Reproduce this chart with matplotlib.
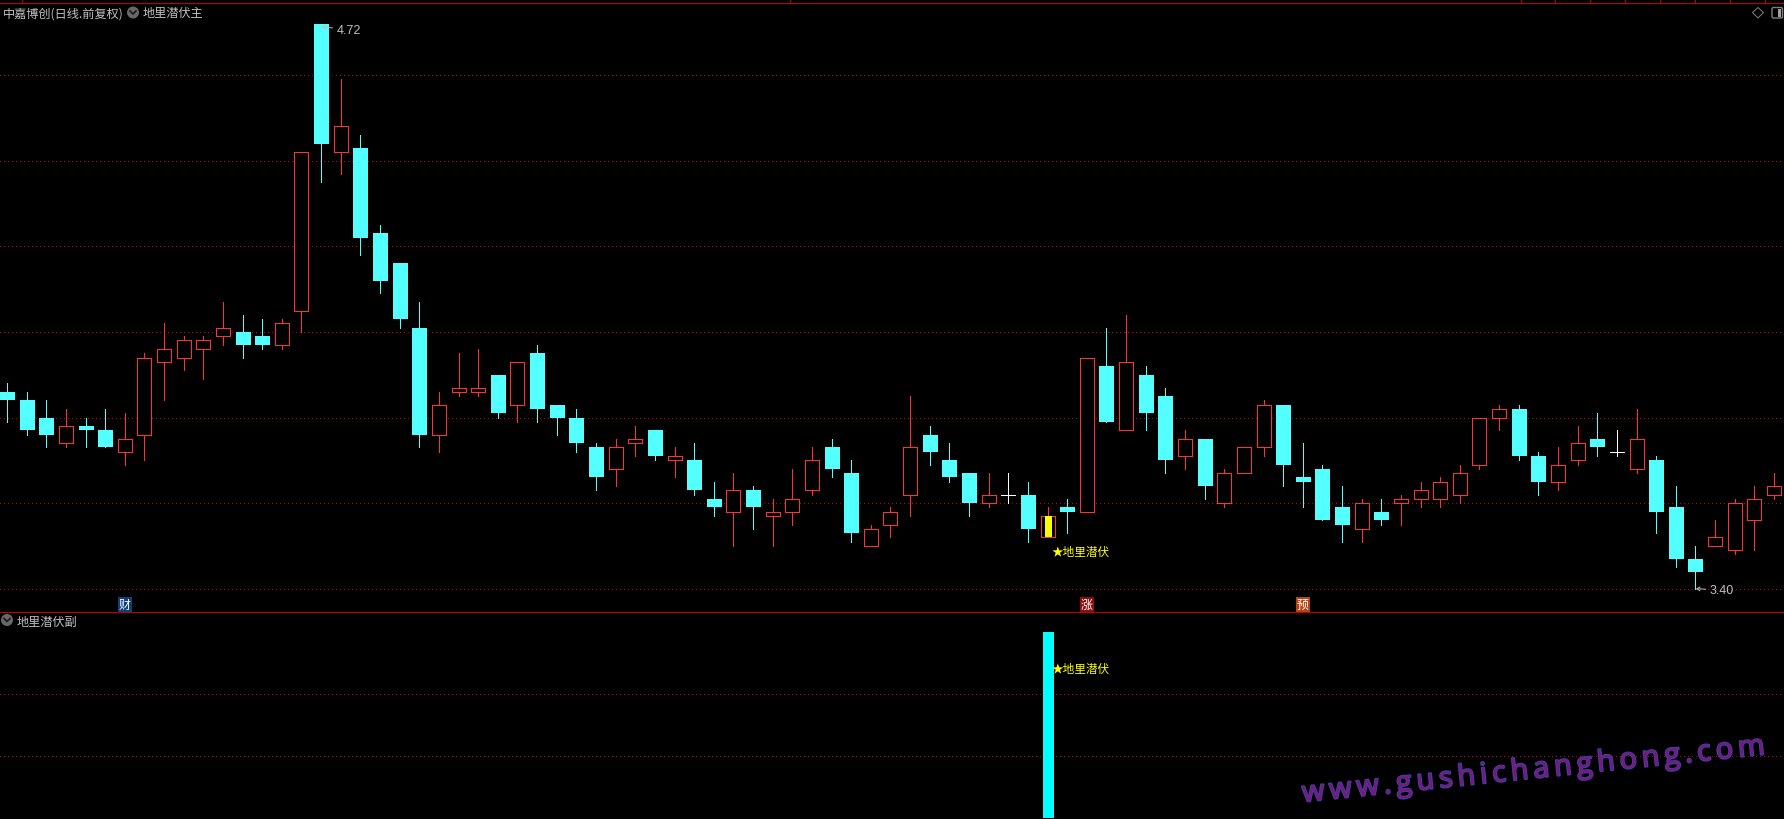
import matplotlib
matplotlib.use('Agg')
import matplotlib.pyplot as plt
import matplotlib.patheffects as pe
from matplotlib.patches import Circle, FancyBboxPatch, Polygon, Rectangle

plt.rcParams['font.family'] = ['Noto Sans CJK SC', 'DejaVu Sans']

W, H = 1784, 820

opens = [3.86, 3.84, 3.80, 3.74, 3.78, 3.77, 3.72, 3.76, 3.93, 3.94, 3.96, 3.99, 4.00, 3.99, 3.97, 4.05,
         4.72, 4.42, 4.43, 4.23, 4.16, 4.01, 3.76, 3.86, 3.86, 3.90, 3.83, 3.95, 3.83, 3.80, 3.73, 3.68,
         3.74, 3.77, 3.70, 3.70, 3.61, 3.58, 3.63, 3.57, 3.58, 3.63, 3.73, 3.67, 3.50, 3.55, 3.62, 3.76,
         3.70, 3.67, 3.60, 3.62, 3.62, 3.52, 3.59, 3.58, 3.92, 3.77, 3.90, 3.85, 3.71, 3.75, 3.60, 3.67,
         3.73, 3.83, 3.66, 3.68, 3.59, 3.54, 3.58, 3.60, 3.61, 3.61, 3.62, 3.69, 3.80, 3.82, 3.71, 3.65,
         3.70, 3.75, 3.72, 3.68, 3.70, 3.59, 3.47, 3.50, 3.49, 3.56, 3.62]
highs = [3.88, 3.86, 3.84, 3.82, 3.80, 3.82, 3.81, 3.95, 4.02, 3.99, 3.99, 4.07, 4.04, 4.03, 4.03, 4.42,
         4.72, 4.59, 4.46, 4.25, 4.16, 4.07, 3.86, 3.95, 3.96, 3.90, 3.93, 3.97, 3.83, 3.82, 3.74, 3.75,
         3.78, 3.77, 3.73, 3.74, 3.65, 3.67, 3.64, 3.61, 3.68, 3.73, 3.75, 3.70, 3.55, 3.59, 3.85, 3.78,
         3.74, 3.67, 3.67, 3.67, 3.65, 3.59, 3.61, 3.94, 4.01, 4.04, 3.92, 3.87, 3.77, 3.75, 3.68, 3.73,
         3.84, 3.83, 3.74, 3.69, 3.64, 3.61, 3.61, 3.62, 3.65, 3.66, 3.69, 3.80, 3.83, 3.83, 3.72, 3.73,
         3.78, 3.81, 3.77, 3.82, 3.71, 3.64, 3.50, 3.56, 3.61, 3.64, 3.67]
lows = [3.79, 3.76, 3.73, 3.73, 3.73, 3.73, 3.69, 3.70, 3.84, 3.91, 3.89, 3.97, 3.94, 3.96, 3.96, 4.00,
        4.35, 4.37, 4.18, 4.09, 4.01, 3.73, 3.72, 3.85, 3.85, 3.80, 3.79, 3.79, 3.76, 3.72, 3.63, 3.64,
        3.71, 3.70, 3.66, 3.62, 3.57, 3.50, 3.54, 3.50, 3.55, 3.62, 3.66, 3.51, 3.50, 3.52, 3.57, 3.69,
        3.65, 3.57, 3.59, 3.60, 3.51, 3.52, 3.53, 3.58, 3.79, 3.77, 3.77, 3.67, 3.68, 3.61, 3.59, 3.67,
        3.71, 3.64, 3.59, 3.56, 3.51, 3.51, 3.55, 3.55, 3.59, 3.59, 3.60, 3.68, 3.77, 3.70, 3.62, 3.63,
        3.69, 3.71, 3.71, 3.67, 3.53, 3.45, 3.40, 3.50, 3.48, 3.49, 3.61]
closes = [3.84, 3.77, 3.76, 3.78, 3.77, 3.73, 3.75, 3.94, 3.96, 3.98, 3.98, 4.01, 3.97, 3.97, 4.02, 4.42,
          4.44, 4.48, 4.22, 4.12, 4.03, 3.76, 3.83, 3.87, 3.87, 3.81, 3.93, 3.82, 3.80, 3.74, 3.66, 3.73,
          3.75, 3.71, 3.71, 3.63, 3.59, 3.63, 3.59, 3.58, 3.61, 3.70, 3.68, 3.53, 3.54, 3.58, 3.73, 3.72,
          3.66, 3.60, 3.62, 3.62, 3.54, 3.57, 3.58, 3.94, 3.79, 3.93, 3.81, 3.70, 3.75, 3.64, 3.67, 3.73,
          3.83, 3.69, 3.65, 3.56, 3.55, 3.60, 3.56, 3.61, 3.63, 3.65, 3.67, 3.80, 3.82, 3.71, 3.65, 3.69,
          3.74, 3.73, 3.72, 3.75, 3.58, 3.47, 3.44, 3.52, 3.60, 3.61, 3.64]

price_grid = [3.40, 3.60, 3.80, 4.00, 4.20, 4.40, 4.60]
sub_grid = [1, 2]
signal_day = 53
signal_value = 3
high_day, high_label = 16, '4.72'
low_day, low_label = 86, '3.40'
badge_days = [6, 55, 66]
badge_text = ['财', '涨', '预']
badge_color = ['#123f78', '#8a0f0f', '#b8430f']
top_ticks = [22, 790, 1521, 1555, 1590, 1625, 1660, 1695, 1730, 1765]

RED = '#ff3232'
CYAN = '#54ffff'
GRID = '#c00000'
LINE = '#c00000'
GRAY = '#c0c0c0'


def px_w(p):
    # width in pixels to x data units
    return p / 19.633


def draw_candles(ax):
    for i in range(len(opens)):
        o, h, l, c = opens[i], highs[i], lows[i], closes[i]
        if o == c:
            color = 'white'
        elif c > o:
            color = RED
        else:
            color = CYAN
        wick_x = i - px_w(0.5)
        ax.plot([wick_x, wick_x], [l, h], color=color, lw=0.72, antialiased=False, solid_capstyle='butt', zorder=2)
        if o == c:
            ax.plot([i - px_w(7.5), i + px_w(6.5)], [c, c], color=color, lw=0.72, antialiased=False, zorder=3)
        elif c > o:
            ax.add_patch(Rectangle((i - px_w(7.5), o), px_w(14), c - o, facecolor='black', edgecolor=color,
                                   lw=0.72, antialiased=False, zorder=3))
        else:
            ax.add_patch(Rectangle((i - px_w(7.5), c), px_w(15), o - c, facecolor=color, edgecolor='none',
                                   antialiased=False, zorder=3))


def draw_grid(ax, levels):
    for y in levels:
        ax.axhline(y, color=GRID, lw=0.72, ls=(0, (1, 3)), antialiased=False, zorder=1)


def chevron_icon(ax, x, y):
    ax.add_patch(Circle((x, y), 6, facecolor='#686868', edgecolor='none', zorder=5))
    ax.plot([x - 3, x, x + 3], [y - 1.5, y + 1.5, y - 1.5], color='#1a1a1a', lw=1.2, zorder=6)


def main():
    fig = plt.figure(figsize=(W / 100, H / 100), dpi=100, facecolor='black')

    # price panel
    ax = fig.add_axes([0, (H - 612.5) / H, 1, 609 / H], facecolor='black')
    ax.set_xlim(-7.5 / 19.633, (W - 7.5) / 19.633)
    ax.set_ylim(3.40 + (589.7 - 612.5) / 428, 3.40 + (589.7 - 3.5) / 428)
    ax.axis('off')
    draw_grid(ax, price_grid)
    draw_candles(ax)
    ax.add_patch(Rectangle((signal_day - px_w(3.5), opens[signal_day]), px_w(7), closes[signal_day] - opens[signal_day],
                           facecolor='#ffff00', edgecolor='none', antialiased=False, zorder=4))

    ax.text(signal_day + px_w(4), 3.486, '★地里潜伏', color='#ffff00', fontsize=8.4, va='center', ha='left', zorder=6)
    ax.annotate(high_label, xy=(high_day, highs[high_day] - 0.007), xytext=(high_day + px_w(15), highs[high_day] - 0.014),
                color=GRAY, fontsize=9, family='Liberation Sans', va='center', ha='left', zorder=6,
                arrowprops=dict(arrowstyle='->,head_width=0.15,head_length=0.25', color=GRAY, lw=0.7, shrinkA=1, shrinkB=0))
    ax.annotate(low_label, xy=(low_day, lows[low_day]), xytext=(low_day + px_w(14), lows[low_day] - 0.003),
                color=GRAY, fontsize=9, family='Liberation Sans', va='center', ha='left', zorder=6,
                arrowprops=dict(arrowstyle='->,head_width=0.15,head_length=0.25', color=GRAY, lw=0.7, shrinkA=1, shrinkB=0))
    for d, t, c in zip(badge_days, badge_text, badge_color):
        ax.text(d - px_w(0.5), 3.363, t, color='white', fontsize=8.6, va='center', ha='center', zorder=6,
                bbox=dict(facecolor=c, edgecolor='none', pad=0.6))

    # indicator panel
    ax2 = fig.add_axes([0, 0, 1, (H - 612.5) / H], facecolor='black')
    ax2.set_xlim(ax.get_xlim())
    ax2.set_ylim(-1 / 62, (819 - 612.5) / 62)
    ax2.axis('off')
    draw_grid(ax2, sub_grid)
    ax2.bar(signal_day, signal_value, width=px_w(11), color='#00ffff', antialiased=False, zorder=3)
    ax2.text(signal_day + px_w(4), 2.41, '★地里潜伏', color='#ffff00', fontsize=8.4, va='center', ha='left', zorder=6)

    # overlay in pixel coordinates for the terminal chrome
    ov = fig.add_axes([0, 0, 1, 1], facecolor='none')
    ov.set_xlim(0, W)
    ov.set_ylim(H, 0)
    ov.axis('off')
    ov.plot([0, W], [3.5, 3.5], color=LINE, lw=0.72, antialiased=False)
    ov.plot([0, W], [612.5, 612.5], color=LINE, lw=0.72, antialiased=False)
    ov.vlines(top_ticks, 0, 3, color=LINE, lw=0.72, antialiased=False)

    ov.text(3, 14, '中嘉博创(日线.前复权)', color=GRAY, fontsize=8.75, va='center', ha='left')
    ov.text(143, 14, '地里潜伏主', color=GRAY, fontsize=8.75, va='center', ha='left')
    ov.text(17, 622, '地里潜伏副', color=GRAY, fontsize=8.75, va='center', ha='left')
    chevron_icon(ov, 133, 13.5)
    chevron_icon(ov, 7, 621)

    # top right icons
    ov.add_patch(Polygon([(1758, 8.5), (1763.5, 13.5), (1758, 19), (1752.5, 13.5)], closed=True,
                         facecolor='none', edgecolor='#808080', lw=0.72))
    ov.add_patch(FancyBboxPatch((1772, 8.5), 10.5, 10.5, boxstyle='round,pad=0,rounding_size=1.5',
                                facecolor='none', edgecolor='#808080', lw=1))
    ov.add_patch(Rectangle((1778, 10), 2.5, 7.5, facecolor='#a0a0a0', edgecolor='none'))

    # watermark
    wm = '\u2009'.join('www.gushichanghong.com')
    ov.text(1303, 803, wm, color='#7a1878', fontsize=20.9, rotation=5.9, rotation_mode='anchor',
            va='baseline', ha='left', family=['Open Sans', 'DejaVu Sans'],
            path_effects=[pe.withStroke(linewidth=1.4, foreground='#4040a8')], zorder=8)

    fig.savefig('out.png', dpi=100, facecolor='black')


if __name__ == '__main__':
    main()
